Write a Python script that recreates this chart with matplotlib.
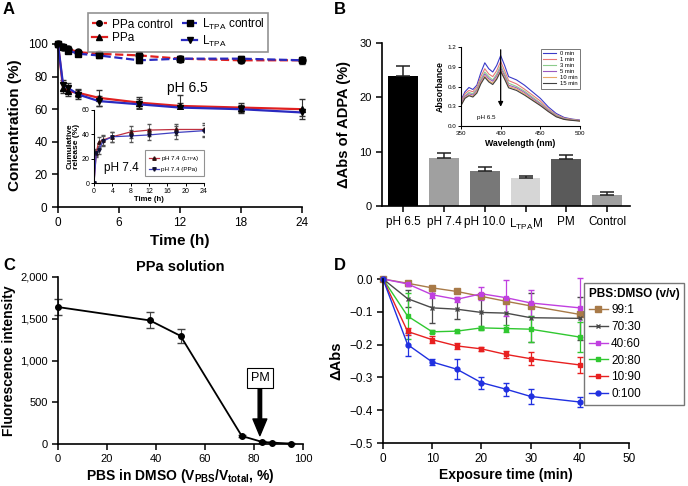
import numpy as np
import matplotlib
matplotlib.use('Agg')
import matplotlib.pyplot as plt
from matplotlib.ticker import FuncFormatter
from matplotlib.lines import Line2D

plt.rcParams['font.family'] = ['Liberation Sans', 'DejaVu Sans']
plt.rcParams['mathtext.fontset'] = 'custom'
plt.rcParams['mathtext.rm'] = 'Liberation Sans'
plt.rcParams['mathtext.bf'] = 'Liberation Sans:bold'
plt.rcParams['axes.linewidth'] = 1.2

# ---- panel A data ----
a_time = [0, 0.5, 1, 2, 4, 8, 12, 18, 24]
a_ppa_ctrl = [100, 98, 97, 95, 94, 93, 91, 90, 90]
a_ppa_ctrl_err = [1, 1, 1.5, 1.5, 2, 2, 1.5, 1.5, 1.5]
a_ltpa_ctrl = [100, 98, 96, 94, 93, 90, 91, 91, 90]
a_ltpa_ctrl_err = [1, 1, 1.5, 1.5, 1.5, 1.5, 1.5, 1.5, 2]
a_ppa = [100, 73, 71, 70, 67, 64, 62, 61, 60]
a_ppa_err = [0, 3, 3, 2.5, 5, 3.5, 7, 3, 6]
a_ltpa = [100, 75, 73, 69, 65, 63, 61, 60, 58]
a_ltpa_err = [0, 3, 3, 2.5, 3, 3, 3, 2.5, 2]

inset_time = [0, 0.5, 1, 2, 4, 8, 12, 18, 24]
inset_ltpa = [0, 25, 33.5, 35.5, 38, 42, 43.5, 44, 44]
inset_ltpa_err = [0, 3, 4, 4, 4, 5, 5, 4.5, 5]
inset_ppa = [0, 24.5, 27, 34.5, 38, 38.7, 39.5, 41.5, 43]
inset_ppa_err = [0, 3, 3, 4, 4, 5, 4.5, 5, 5]

# ---- panel B data ----
b_groups = ['pH 6.5', 'pH 7.4', 'pH 10.0', r'L$_{\mathregular{TPA}}$M', 'PM', 'Control']
b_values = [24.0, 8.9, 6.5, 5.1, 8.7, 2.1]
b_err = [1.8, 0.9, 0.6, 0.4, 0.7, 0.4]
b_colors = ['#000000', '#a0a0a0', '#787878', '#d6d6d6', '#5a5a5a', '#a0a0a0']

wavelength = [350, 355, 360, 365, 370, 375, 380, 385, 390, 395, 400, 405, 410,
              420, 430, 440, 450, 460, 470, 480, 490, 500]
abs_0 = [0.39, 0.52, 0.585, 0.555, 0.62, 0.81, 0.96, 0.87, 0.82, 0.92, 1.07, 0.92, 0.75,
         0.70, 0.62, 0.52, 0.42, 0.29, 0.19, 0.13, 0.105, 0.09]
abs_1 = [0.37, 0.49, 0.54, 0.52, 0.59, 0.75, 0.87, 0.79, 0.75, 0.84, 0.98, 0.84, 0.69,
         0.64, 0.56, 0.47, 0.38, 0.26, 0.17, 0.12, 0.10, 0.085]
abs_3 = [0.35, 0.46, 0.51, 0.49, 0.56, 0.71, 0.82, 0.75, 0.70, 0.79, 0.92, 0.79, 0.65,
         0.60, 0.53, 0.44, 0.35, 0.245, 0.16, 0.11, 0.095, 0.08]
abs_5 = [0.34, 0.45, 0.49, 0.47, 0.54, 0.68, 0.79, 0.72, 0.68, 0.76, 0.88, 0.76, 0.62,
         0.58, 0.51, 0.42, 0.335, 0.235, 0.15, 0.105, 0.09, 0.08]
abs_10 = [0.32, 0.43, 0.47, 0.45, 0.52, 0.66, 0.76, 0.69, 0.65, 0.73, 0.85, 0.73, 0.60,
          0.56, 0.49, 0.40, 0.32, 0.225, 0.145, 0.10, 0.088, 0.078]
abs_15 = [0.31, 0.42, 0.46, 0.44, 0.50, 0.64, 0.74, 0.67, 0.63, 0.71, 0.83, 0.71, 0.58,
          0.54, 0.47, 0.39, 0.31, 0.22, 0.14, 0.10, 0.085, 0.075]
spec_labels = ['0 min', '1 min', '3 min', '5 min', '10 min', '15 min']
spec_colors = ['#3a3ac8', '#e87878', '#8ccc8c', '#9a5ac0', '#e8a868', '#404040']

# ---- panel C data ----
c_pbs = [0, 37.5, 50, 75, 83.3, 87.5, 95]
c_fluo = [1640, 1480, 1295, 96, 25, 16, 5]
c_err = [95, 95, 85, 10, 8, 5, 3]

# ---- panel D data ----
d_time = [0, 5, 10, 15, 20, 25, 30, 40]
d_labels = ['99:1', '70:30', '40:60', '20:80', '10:90', '0:100']
d_99_1 = [0, -0.013, -0.027, -0.038, -0.053, -0.068, -0.082, -0.108]
d_70_30 = [0, -0.06, -0.088, -0.092, -0.102, -0.104, -0.118, -0.12]
d_40_60 = [0, -0.015, -0.048, -0.062, -0.045, -0.057, -0.073, -0.088]
d_20_80 = [0, -0.113, -0.161, -0.159, -0.149, -0.151, -0.153, -0.177]
d_10_90 = [0, -0.16, -0.185, -0.204, -0.213, -0.23, -0.243, -0.262]
d_0_100 = [0, -0.2, -0.253, -0.275, -0.316, -0.336, -0.358, -0.375]
d_err_99_1 = [0, 0.004, 0.005, 0.005, 0.006, 0.006, 0.006, 0.008]
d_err_70_30 = [0, 0.025, 0.045, 0.03, 0.05, 0.045, 0.075, 0.065]
d_err_40_60 = [0, 0.005, 0.01, 0.008, 0.02, 0.055, 0.04, 0.09]
d_err_20_80 = [0, 0.07, 0.005, 0.005, 0.005, 0.01, 0.04, 0.045]
d_err_10_90 = [0, 0.01, 0.01, 0.008, 0.006, 0.012, 0.02, 0.025]
d_err_0_100 = [0, 0.035, 0.01, 0.03, 0.018, 0.02, 0.022, 0.015]

W, H = 688, 486


def box(l, t, r, b):
    return [l / W, 1 - b / H, (r - l) / W, (b - t) / H]


def style(ax, size):
    for s in ['top', 'right']:
        ax.spines[s].set_visible(False)
    ax.tick_params(direction='out', length=4, width=1.1, labelsize=size)


fig = plt.figure(figsize=(6.88, 4.86), dpi=100)

# ================= A =================
axA = fig.add_axes(box(58, 44, 302, 207))
style(axA, 8.5)
red, blue = '#e02020', '#2a2ac0'
a_sets = [
    (a_ppa_ctrl, a_ppa_ctrl_err, red, '--', 'o', 'PPa control'),
    (a_ltpa_ctrl, a_ltpa_ctrl_err, blue, '--', 's', r'L$_{\mathregular{TPA}}$ control'),
    (a_ppa, a_ppa_err, red, '-', '^', 'PPa'),
    (a_ltpa, a_ltpa_err, blue, '-', 'v', r'L$_{\mathregular{TPA}}$'),
]
handles = {}
for yv, ev, col, ls, mk, lab in a_sets:
    axA.errorbar(a_time, yv, yerr=ev, color=col, ls=ls, lw=1.6, marker=mk, mfc='k',
                 mec='k', ms=5, ecolor='#333333', capsize=2.5, elinewidth=0.8, clip_on=False)
    handles[lab] = Line2D([], [], color=col, ls=ls, lw=1.6, marker=mk, mfc='k', mec='k', ms=4)
axA.set_xlim(0, 24)
axA.set_ylim(0, 100)
axA.set_xticks([0, 6, 12, 18, 24])
axA.set_yticks([0, 20, 40, 60, 80, 100])
axA.set_xlabel('Time (h)', fontsize=11, fontweight='bold', labelpad=3)
axA.set_ylabel('Concentration (%)', fontsize=11, fontweight='bold', labelpad=4)
axA.text(12.7, 73, 'pH 6.5', fontsize=10, ha='center', va='center')
order = ['PPa control', 'PPa', r'L$_{\mathregular{TPA}}$ control', r'L$_{\mathregular{TPA}}$']
legA = axA.legend([handles[k] for k in order], order, ncol=2, loc='upper left',
                  bbox_to_anchor=(88 / W, 1 - 13 / H), bbox_transform=fig.transFigure,
                  borderaxespad=0, fontsize=8.5, frameon=True, fancybox=False,
                  edgecolor='#777777', handlelength=1.3, columnspacing=0.8,
                  handletextpad=0.4, labelspacing=0.15, borderpad=0.3)
legA.get_frame().set_linewidth(1.2)

# inset A
axAi = fig.add_axes(box(94, 110, 204, 183))
style(axAi, 5)
axAi.tick_params(length=2, width=0.7, pad=1.5)
for s in ['left', 'bottom']:
    axAi.spines[s].set_linewidth(0.8)
axAi.errorbar(inset_time, inset_ltpa, yerr=inset_ltpa_err, color='#c03040', lw=0.9,
              marker='^', ms=2.5, mfc='#301010', mec='#301010', ecolor='#555555',
              capsize=1.5, elinewidth=0.6)
axAi.errorbar(inset_time, inset_ppa, yerr=inset_ppa_err, color='#4040c0', lw=0.9,
              marker='v', ms=2.5, mfc='#101030', mec='#101030', ecolor='#555555',
              capsize=1.5, elinewidth=0.6)
axAi.set_xlim(0, 24)
axAi.set_ylim(0, 60)
axAi.set_xticks([0, 4, 8, 12, 16, 20, 24])
axAi.set_yticks([0, 20, 40, 60])
axAi.set_xlabel('Time (h)', fontsize=5.5, fontweight='bold', labelpad=1)
axAi.set_ylabel('Cumulative\nrelease (%)', fontsize=6, fontweight='bold', labelpad=1,
                linespacing=0.95)
axAi.text(2.2, 12, 'pH 7.4', fontsize=8.5, ha='left', va='center')
hi = [Line2D([], [], color='#c03040', lw=0.9, marker='^', ms=2.5, mfc='#301010', mec='#301010'),
      Line2D([], [], color='#4040c0', lw=0.9, marker='v', ms=2.5, mfc='#101030', mec='#101030')]
legAi = axAi.legend(hi, [r'pH 7.4 (L$_{\mathregular{TPA}}$)', 'pH 7.4 (PPa)'],
                    loc='upper left', bbox_to_anchor=(145 / W, 1 - 150 / H),
                    bbox_transform=fig.transFigure, borderaxespad=0, fontsize=4.5,
                    frameon=True, fancybox=False, edgecolor='#777777',
                    handlelength=1.5, handletextpad=0.4, labelspacing=0.5, borderpad=0.7)
legAi.get_frame().set_linewidth(0.8)

# ================= B =================
axB = fig.add_axes(box(382, 43, 630, 206))
style(axB, 8)
xb = np.arange(len(b_values))
axB.bar(xb, b_values, width=0.73, color=b_colors,
        yerr=[np.zeros(len(b_err)), b_err], capsize=5,
        error_kw=dict(elinewidth=1.1, capthick=1.1, ecolor='#222222'))
axB.set_xlim(-0.52, 5.56)
axB.set_ylim(0, 30)
axB.set_yticks([0, 10, 20, 30])
axB.set_xticks(xb)
axB.set_xticklabels(b_groups, fontsize=8.5)
axB.set_ylabel('ΔAbs of ADPA (%)', fontsize=10.5, fontweight='bold', labelpad=6)

# inset B
axBi = fig.add_axes(box(461, 47, 580, 126))
style(axBi, 4.5)
axBi.tick_params(length=2, width=0.7, pad=1.5)
for s in ['left', 'bottom']:
    axBi.spines[s].set_linewidth(0.8)
for yv, lab, col in zip([abs_0, abs_1, abs_3, abs_5, abs_10, abs_15], spec_labels, spec_colors):
    axBi.plot(wavelength, yv, color=col, lw=0.8, label=lab)
axBi.set_xlim(350, 500)
axBi.set_ylim(0, 1.2)
axBi.set_xticks([350, 400, 450, 500])
axBi.set_yticks([0.0, 0.3, 0.6, 0.9, 1.2])
axBi.yaxis.set_major_formatter(FuncFormatter(lambda v, p: f'{v:.1f}'))
axBi.annotate('', xy=(400, 0.25), xytext=(400, 1.2),
              arrowprops=dict(arrowstyle='-|>', color='k', lw=0.9, mutation_scale=7))
axBi.text(370, 0.13, 'pH 6.5', fontsize=4.5, ha='left', va='center')
axBi.set_xlabel('Wavelength (nm)', fontsize=6.3, fontweight='bold', labelpad=2)
axBi.set_ylabel('Absorbance', fontsize=6.3, fontweight='bold', labelpad=2)
legBi = axBi.legend(loc='upper left', bbox_to_anchor=(541 / W, 1 - 49 / H),
                    bbox_transform=fig.transFigure, borderaxespad=0, fontsize=4.2,
                    frameon=True, fancybox=False, edgecolor='#555555',
                    handlelength=2.2, handletextpad=0.6, labelspacing=0.15, borderpad=0.4)
legBi.get_frame().set_linewidth(0.7)

# ================= C =================
axC = fig.add_axes(box(58, 277, 303, 444))
style(axC, 8)
axC.errorbar(c_pbs, c_fluo, yerr=c_err, color='k', lw=1.3, marker='o', ms=4,
             ecolor='#444444', capsize=3, elinewidth=0.8, clip_on=False)
axC.set_xlim(0, 100)
axC.set_ylim(0, 2000)
axC.set_xticks([0, 20, 40, 60, 80, 100])
axC.set_yticks([0, 500, 1000, 1500, 2000])
axC.yaxis.set_major_formatter(FuncFormatter(lambda v, p: f'{int(v):,}'))
axC.set_title('PPa solution', fontsize=10.5, fontweight='bold', pad=4)
axC.set_xlabel(r'PBS in DMSO (V$_{\mathbf{PBS}}$/V$_{\mathbf{total}}$, %)',
               fontsize=10, fontweight='bold', labelpad=2)
axC.set_ylabel('Fluorescence intensity', fontsize=10, fontweight='bold', labelpad=3)
axC.annotate('', xy=(82.4, 100), xytext=(82.4, 730),
             arrowprops=dict(width=2.5, headwidth=10, headlength=12, color='k', shrink=0))
axC.text(82.4, 790, 'PM', fontsize=9, ha='center', va='center',
         bbox=dict(boxstyle='square,pad=0.3', fc='white', ec='k', lw=0.8))

# ================= D =================
axD = fig.add_axes(box(383, 279, 629, 443))
style(axD, 8.5)
d_series = [d_99_1, d_70_30, d_40_60, d_20_80, d_10_90, d_0_100]
d_errs = [d_err_99_1, d_err_70_30, d_err_40_60, d_err_20_80, d_err_10_90, d_err_0_100]
d_colors = ['#a87a48', '#4a4a4a', '#c040e0', '#30c830', '#e82020', '#2030e0']
d_markers = ['s', 'x', 's', 's', 's', 'o']
d_ms = [5, 3, 3, 2.5, 3.5, 3.5]
d_handles = []
for yv, ev, col, mk, ms in zip(d_series, d_errs, d_colors, d_markers, d_ms):
    axD.errorbar(d_time, yv, yerr=ev, color=col, lw=1.0, marker=mk, ms=ms,
                 capsize=2, elinewidth=0.9, clip_on=False)
    d_handles.append(Line2D([], [], color=col, lw=1.0, marker=mk, ms=ms))
axD.set_xlim(0, 50)
axD.set_ylim(-0.5, 0)
axD.set_xticks([0, 10, 20, 30, 40, 50])
axD.set_yticks([0, -0.1, -0.2, -0.3, -0.4, -0.5])
axD.yaxis.set_major_formatter(FuncFormatter(lambda v, p: f'{v:.1f}'.replace('-', '\u2212')))
axD.set_xlabel('Exposure time (min)', fontsize=10, fontweight='bold', labelpad=2)
axD.set_ylabel('ΔAbs', fontsize=10.5, fontweight='bold', labelpad=4)
legD = axD.legend(d_handles, d_labels, title='PBS:DMSO (v/v)', loc='upper left',
                  bbox_to_anchor=(584 / W, 1 - 283 / H), bbox_transform=fig.transFigure,
                  borderaxespad=0, fontsize=8.5, frameon=True, fancybox=False,
                  edgecolor='#555555', handlelength=1.6, handletextpad=0.3,
                  labelspacing=0.4, alignment='left',
                  title_fontproperties={'weight': 'bold', 'size': 8.5})
legD.get_frame().set_linewidth(1.0)

# panel letters
for lab, x, y in [('A', 3, 9), ('B', 334, 9), ('C', 3, 265), ('D', 334, 265)]:
    fig.text(x / W, 1 - y / H, lab, fontsize=12, fontweight='bold', va='center', ha='left')

fig.savefig('out.png', dpi=100)
